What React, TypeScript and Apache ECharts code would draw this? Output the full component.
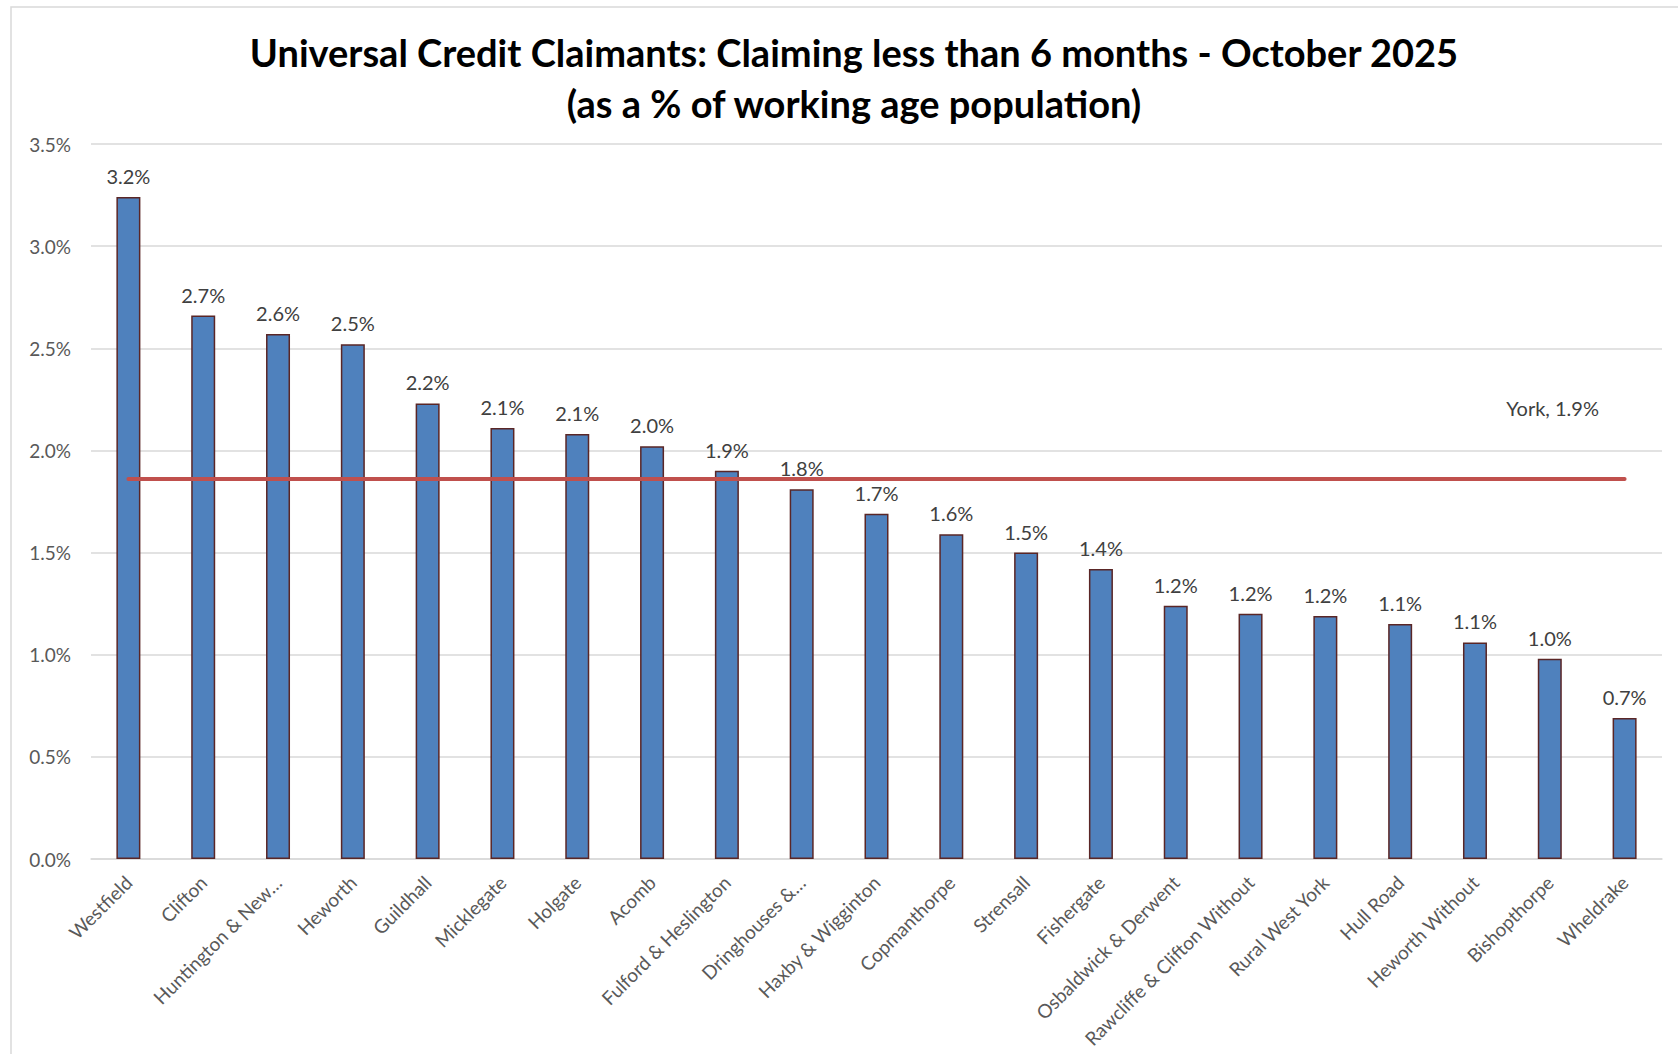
import React, { useEffect, useRef } from "react";
import * as echarts from "echarts";

const wards = [
  "Westfield",
  "Clifton",
  "Huntington & New…",
  "Heworth",
  "Guildhall",
  "Micklegate",
  "Holgate",
  "Acomb",
  "Fulford & Heslington",
  "Dringhouses &…",
  "Haxby & Wigginton",
  "Copmanthorpe",
  "Strensall",
  "Fishergate",
  "Osbaldwick & Derwent",
  "Rawcliffe & Clifton Without",
  "Rural West York",
  "Hull Road",
  "Heworth Without",
  "Bishopthorpe",
  "Wheldrake",
];

const claimantPct = [
  3.24, 2.66, 2.57, 2.52, 2.23, 2.11, 2.08, 2.02, 1.9, 1.81, 1.69, 1.59, 1.5,
  1.42, 1.24, 1.2, 1.19, 1.15, 1.06, 0.98, 0.69,
];

const yorkPct = 1.86;
const yorkLabel = "York";

const yTicks = { min: 0, max: 3.5, interval: 0.5 };

const titleLines = [
  "Universal Credit Claimants: Claiming less than 6 months - October 2025",
  "(as a % of working age population)",
];

const FONT = "Lato, 'Open Sans', sans-serif";

export default function App() {
  const ref = useRef<HTMLDivElement>(null);

  useEffect(() => {
    if (!ref.current) return;
    const chart = echarts.init(ref.current, null, { renderer: "svg" });
    chart.setOption({
      animation: false,
      backgroundColor: "#ffffff",
      textStyle: { fontFamily: FONT },
      title: {
        text: titleLines.join("\n"),
        left: 849,
        textAlign: "center",
        top: 21,
        textStyle: {
          fontFamily: FONT,
          fontWeight: "bold",
          fontSize: 38,
          lineHeight: 51,
          color: "#000000",
        },
      },
      graphic: [
        {
          type: "rect",
          shape: { x: 11, y: 7, width: 1720, height: 1100 },
          style: { fill: "none", stroke: "#D9D9D9", lineWidth: 1.5 },
          silent: true,
        },
      ],
      grid: { left: 91, right: 16, top: 144, bottom: 195, containLabel: false },
      xAxis: {
        type: "category",
        data: wards,
        axisTick: { show: false },
        axisLine: { lineStyle: { color: "#D9D9D9", width: 1.5 } },
        axisLabel: {
          rotate: 45,
          interval: 0,
          margin: 20,
          color: "#595959",
          fontSize: 19,
          fontFamily: FONT,
        },
      },
      yAxis: {
        type: "value",
        min: yTicks.min,
        max: yTicks.max,
        interval: yTicks.interval,
        axisLine: { show: false },
        axisTick: { show: false },
        splitLine: { lineStyle: { color: "#D9D9D9", width: 1.5 } },
        axisLabel: {
          margin: 20,
          color: "#595959",
          fontSize: 19,
          fontFamily: FONT,
          formatter: (v: number) => `${v.toFixed(1)}%`,
        },
      },
      series: [
        {
          type: "bar",
          data: claimantPct,
          barWidth: 24,
          itemStyle: {
            color: "#4F81BD",
            borderColor: "#5A2626",
            borderWidth: 1.5,
          },
          label: {
            show: true,
            position: "top",
            distance: 11,
            color: "#404040",
            fontSize: 20,
            fontFamily: FONT,
            formatter: (p: any) => `${Number(p.value).toFixed(1)}%`,
          },
          z: 2,
        },
        {
          type: "line",
          data: wards.map(() => yorkPct),
          symbol: "none",
          lineStyle: { color: "#C0504D", width: 4, cap: "round" },
          endLabel: {
            show: true,
            distance: 0,
            align: "center",
            verticalAlign: "middle",
            offset: [-72, -71],
            formatter: () => `${yorkLabel}, ${yorkPct.toFixed(1)}%`,
            color: "#404040",
            fontSize: 20,
            fontFamily: FONT,
          },
          z: 3,
        },
      ],
    });
    return () => chart.dispose();
  }, []);

  return (
    <div
      ref={ref}
      style={{ position: "fixed", left: 0, top: 0, width: 1678, height: 1054 }}
    />
  );
}
